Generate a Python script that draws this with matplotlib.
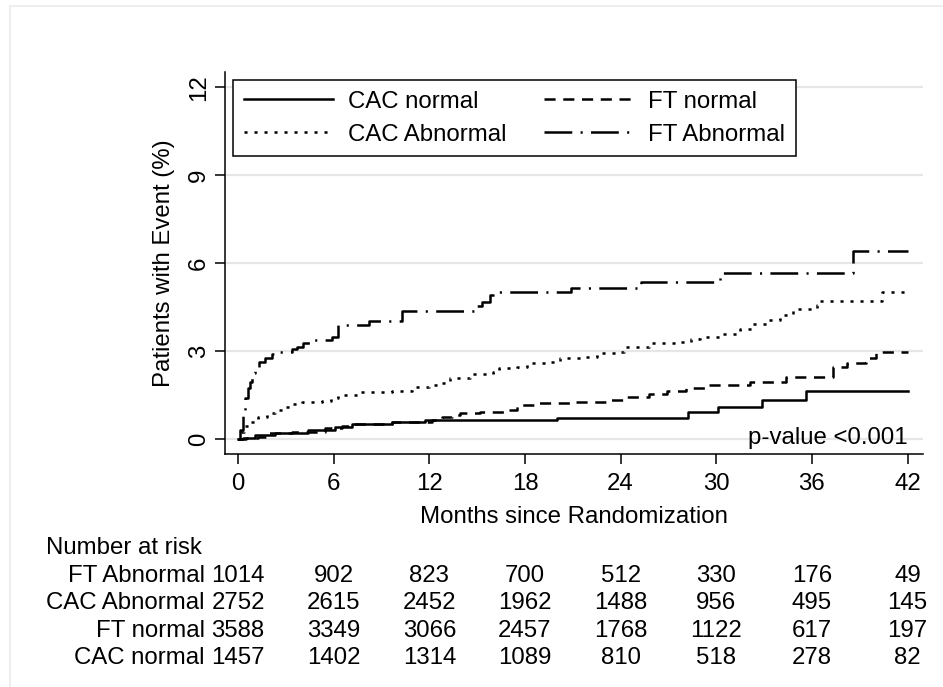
import matplotlib
matplotlib.use('Agg')
import matplotlib.pyplot as plt
import matplotlib.transforms as mtransforms
from matplotlib.lines import Line2D

plt.rcParams['font.family'] = ['Liberation Sans', 'DejaVu Sans']
plt.rcParams['lines.scale_dashes'] = False

# Kaplan-Meier style cumulative event curves (month, % with event)
cac_normal_t = [0, 0.3, 1.07, 2.32, 4.41, 6.08, 7.13, 9.64, 11.7, 20.0, 28.2, 30.1, 32.85, 35.6, 42]
cac_normal_y = [0, 0.05, 0.14, 0.22, 0.31, 0.40, 0.53, 0.59, 0.64, 0.71, 0.91, 1.08, 1.33, 1.64, 1.64]

cac_abn_t = [0, 0.2, 0.4, 0.75, 1.28, 1.8, 2.32, 2.85, 3.37, 3.99, 5.25, 5.8, 6.29, 7.55, 9.64,
             10.9, 12.0, 12.78, 13.3, 14.55, 16.0, 16.4, 17.5, 18.1, 19.6, 20.2, 21.7, 22.5, 23.75,
             24.2, 25.8, 27.7, 28.4, 29.0, 30.4, 31.5, 32.3, 33.2, 34.0, 34.8, 36.3, 36.5, 40.4, 42]
cac_abn_y = [0, 0.25, 0.45, 0.59, 0.76, 0.88, 0.99, 1.10, 1.19, 1.27, 1.30, 1.40, 1.50, 1.59, 1.65,
             1.78, 1.85, 1.92, 2.07, 2.22, 2.30, 2.44, 2.47, 2.60, 2.64, 2.75, 2.79, 2.94, 2.97,
             3.15, 3.28, 3.32, 3.41, 3.49, 3.60, 3.77, 3.94, 4.06, 4.23, 4.45, 4.57, 4.70, 5.00, 5.00]

ft_normal_t = [0, 0.5, 1.28, 1.9, 3.37, 5.46, 6.5, 7.13, 9.64, 12.15, 12.8, 13.4, 13.9, 15.2, 16.9,
               17.5, 18.7, 20.8, 23.3, 24.2, 25.8, 26.9, 28.1, 29.4, 32.1, 34.4, 37.3, 38.2, 39.4, 40.0, 42]
ft_normal_y = [0, 0.03, 0.08, 0.19, 0.25, 0.36, 0.45, 0.53, 0.59, 0.65, 0.75, 0.82, 0.88, 0.93, 0.99,
               1.16, 1.22, 1.27, 1.33, 1.44, 1.53, 1.65, 1.75, 1.84, 1.95, 2.12, 2.47, 2.58, 2.78, 2.98, 2.98]

ft_abn_t = [0, 0.15, 0.3, 0.45, 0.6, 0.75, 0.9, 1.07, 1.3, 1.69, 2.1, 2.53, 3.37, 3.68, 4.1, 4.52,
            5.88, 6.29, 8.2, 10.27, 14.87, 15.29, 15.81, 16.23, 20.89, 25.3, 30.24, 38.6, 42]
ft_abn_y = [0, 0.3, 0.9, 1.4, 1.75, 1.95, 2.25, 2.47, 2.62, 2.78, 2.90, 2.98, 3.07, 3.15, 3.28, 3.38,
            3.49, 3.90, 4.03, 4.37, 4.55, 4.68, 4.90, 5.00, 5.16, 5.34, 5.65, 6.41, 6.41]

# number at risk table
risk_months = [0, 6, 12, 18, 24, 30, 36, 42]
risk_groups = ['FT Abnormal', 'CAC Abnormal', 'FT normal', 'CAC normal']
risk_ft_abn = [1014, 902, 823, 700, 512, 330, 176, 49]
risk_cac_abn = [2752, 2615, 2452, 1962, 1488, 956, 495, 145]
risk_ft_normal = [3588, 3349, 3066, 2457, 1768, 1122, 617, 197]
risk_cac_normal = [1457, 1402, 1314, 1089, 810, 518, 278, 82]

fs = 17.3
lw = 1.8
W, H = 943, 687

fig = plt.figure(figsize=(W / 100, H / 100), dpi=100)
ax = fig.add_axes([225 / W, 1 - 454 / H, (923 - 225) / W, (454 - 72) / H])

ax.step(cac_normal_t, cac_normal_y, where='post', color='black', lw=lw, ls='-', label='CAC normal')
ax.step(cac_abn_t, cac_abn_y, where='post', color='black', lw=lw, ls=(0, (2.2, 5.0)), label='CAC Abnormal')
ax.step(ft_normal_t, ft_normal_y, where='post', color='black', lw=lw, ls=(0, (8.0, 5.5)), label='FT normal')
ax.step(ft_abn_t, ft_abn_y, where='post', color='black', lw=lw, ls=(0, (20.0, 6.0, 1.5, 6.0)), label='FT Abnormal')

ax.set_xlim(-0.82, 42.97)
ax.set_ylim(-0.51, 12.52)
ax.set_xticks(risk_months)
ax.set_yticks([0, 3, 6, 9, 12])
ax.grid(axis='y', color='#e6e6e6', lw=1.6)
ax.set_axisbelow(True)
for s in ['top', 'right']:
    ax.spines[s].set_visible(False)
for s in ['left', 'bottom']:
    ax.spines[s].set_linewidth(1.1)
ax.tick_params(axis='both', which='both', direction='out', length=7, width=1.1, labelsize=fs)
ax.tick_params(axis='x', pad=7)
ax.tick_params(axis='y', pad=4)
for lab in ax.get_yticklabels():
    lab.set_rotation(90)
    lab.set_va('center')

ax.set_ylabel('Patients with Event (%)', fontsize=fs)
ax.yaxis.set_label_coords(-0.072, 0.5)
ax.set_xlabel('Months since Randomization', fontsize=fs)
ax.xaxis.set_label_coords(0.5, -0.135)

ax.text(42, 0.02, 'p-value <0.001', fontsize=fs, ha='right', va='center')

leg = ax.legend(ncol=2, loc='upper left', bbox_to_anchor=(233 / W, 1 - 80 / H),
                bbox_transform=fig.transFigure, borderaxespad=0, fontsize=fs,
                frameon=True, fancybox=False, framealpha=1, edgecolor='black',
                handlelength=3.7, handletextpad=0.62, columnspacing=1.58,
                labelspacing=0.45, borderpad=0.45)
leg.get_frame().set_linewidth(1.1)

# number at risk table under the axis
trans = mtransforms.blended_transform_factory(ax.transData, fig.transFigure)
fig.text(46 / W, 1 - 548 / H, 'Number at risk', fontsize=fs, ha='left', va='center')
rows = [risk_ft_abn, risk_cac_abn, risk_ft_normal, risk_cac_normal]
row_y = [576, 603, 631, 658]
for name, counts, yy in zip(risk_groups, rows, row_y):
    fig.text(205 / W, 1 - yy / H, name, fontsize=fs, ha='right', va='center')
    for m, c in zip(risk_months, counts):
        ax.text(m, 1 - yy / H, str(c), fontsize=fs, ha='center', va='center', transform=trans)

# faint outer frame of the original export
fig.add_artist(Line2D([9.5 / W, 9.5 / W], [0, 1 - 5.5 / H], transform=fig.transFigure, color='#ebebeb', lw=1.2))
fig.add_artist(Line2D([9.5 / W, 1], [1 - 5.5 / H, 1 - 5.5 / H], transform=fig.transFigure, color='#ebebeb', lw=1.2))

fig.savefig('out.png', dpi=100)
plt.close()
